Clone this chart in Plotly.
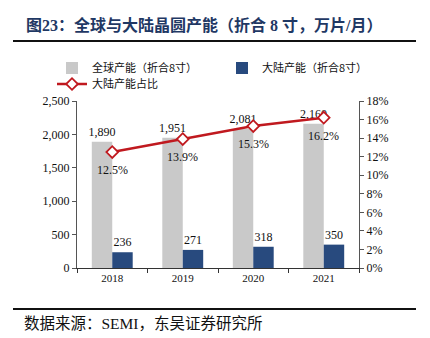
import plotly.graph_objects as go

years = ["2018", "2019", "2020", "2021"]
global_cap = [1890, 1951, 2081, 2160]
china_cap = [236, 271, 318, 350]
china_share = [0.125, 0.139, 0.153, 0.162]

W, H = 430, 338
L, R, T, B = 77, 71, 101, 70
pw, ph = W - L - R, H - T - B

def px(x):
    return (x - L) / pw

def py(y):
    return (H - B - y) / ph

FONT = "Liberation Serif, Times New Roman, Noto Sans CJK SC"
CJK = "Noto Sans CJK SC, Liberation Serif"

fig = go.Figure()
fig.add_trace(go.Bar(
    x=years, y=global_cap, name="全球产能（折合8寸）", legend="legend",
    marker=dict(color="#C9C9C9", line=dict(width=0)),
    text=[f"{v:,}" for v in global_cap], textposition="outside",
    constraintext="none",
    textfont=dict(size=12, color="#111", family=FONT), cliponaxis=False,
))
fig.add_trace(go.Bar(
    x=years, y=china_cap, name="大陆产能（折合8寸）", legend="legend2",
    marker=dict(color="#284A7E", line=dict(width=0)),
    text=[f"{v:,}" for v in china_cap], textposition="outside",
    constraintext="none",
    textfont=dict(size=12, color="#111", family=FONT), cliponaxis=False,
))
fig.add_trace(go.Scatter(
    x=years, y=china_share, name="大陆产能占比", yaxis="y2", legend="legend3",
    mode="lines+markers",
    line=dict(color="#C0191F", width=2.5),
    marker=dict(symbol="diamond", size=9, color="white",
                line=dict(color="#C0191F", width=1.8)),
    cliponaxis=False,
))

leg_common = dict(
    xanchor="left", yanchor="middle",
    font=dict(family=CJK, size=11, color="#111"),
    itemwidth=30, bgcolor="rgba(0,0,0,0)", borderwidth=0,
)

pct_labels = [
    dict(text=f"{v*100:.1f}%", x=i, y=v, xref="x", yref="y2",
         yshift=-18, showarrow=False, xanchor="center", yanchor="middle",
         font=dict(size=12, color="#111", family=FONT))
    for i, v in enumerate(china_share)
]

fig.update_layout(
    width=W, height=H,
    margin=dict(l=L, r=R, t=T, b=B, autoexpand=False),
    paper_bgcolor="white", plot_bgcolor="white",
    barmode="group", bargap=0.42, bargroupgap=0,
    font=dict(family=FONT, size=12, color="#111"),
    showlegend=True,
    legend=dict(x=px(52), y=py(68), **leg_common),
    legend2=dict(x=px(222), y=py(68), **leg_common),
    legend3=dict(x=px(52), y=py(84), **leg_common),
    xaxis=dict(
        type="category", categoryorder="array", categoryarray=years,
        range=[-0.5, len(years) - 0.5],
        showline=True, linecolor="#333", linewidth=1,
        ticks="outside", tickson="boundaries", ticklen=4, tickcolor="#333",
        tickfont=dict(size=11, family=FONT), showgrid=False,
    ),
    yaxis=dict(
        range=[0, 2500], dtick=500, tickformat=",", showline=True,
        linecolor="#555", linewidth=1, ticks="outside", ticklen=4,
        tickcolor="#555", showgrid=False, zeroline=False,
        tickfont=dict(size=12, family=FONT),
    ),
    yaxis2=dict(
        range=[0, 0.18], dtick=0.02, tickformat=".0%", overlaying="y",
        side="right", showline=True, linecolor="#555", linewidth=1,
        ticks="outside", ticklen=4, tickcolor="#555", showgrid=False,
        zeroline=False, tickfont=dict(size=12, family=FONT),
    ),
    annotations=pct_labels + [
        dict(text="<b>图23：全球与大陆晶圆产能（折合 8 寸，万片/月）</b>",
             xref="paper", yref="paper", x=px(24), y=py(25),
             xanchor="left", yanchor="middle", showarrow=False,
             font=dict(size=16, color="#1F3864", family=FONT)),
        dict(text="数据来源：SEMI，东吴证券研究所",
             xref="paper", yref="paper", x=px(22), y=py(323),
             xanchor="left", yanchor="middle", showarrow=False,
             font=dict(size=15.5, color="#111", family=FONT)),
    ],
    shapes=[
        dict(type="line", xref="paper", yref="paper",
             x0=px(13), x1=px(416), y0=py(41), y1=py(41),
             line=dict(color="#111", width=2)),
        dict(type="line", xref="paper", yref="paper",
             x0=px(13), x1=px(416), y0=py(309), y1=py(309),
             line=dict(color="#111", width=2)),
    ],
)

fig.write_html("out.html")
